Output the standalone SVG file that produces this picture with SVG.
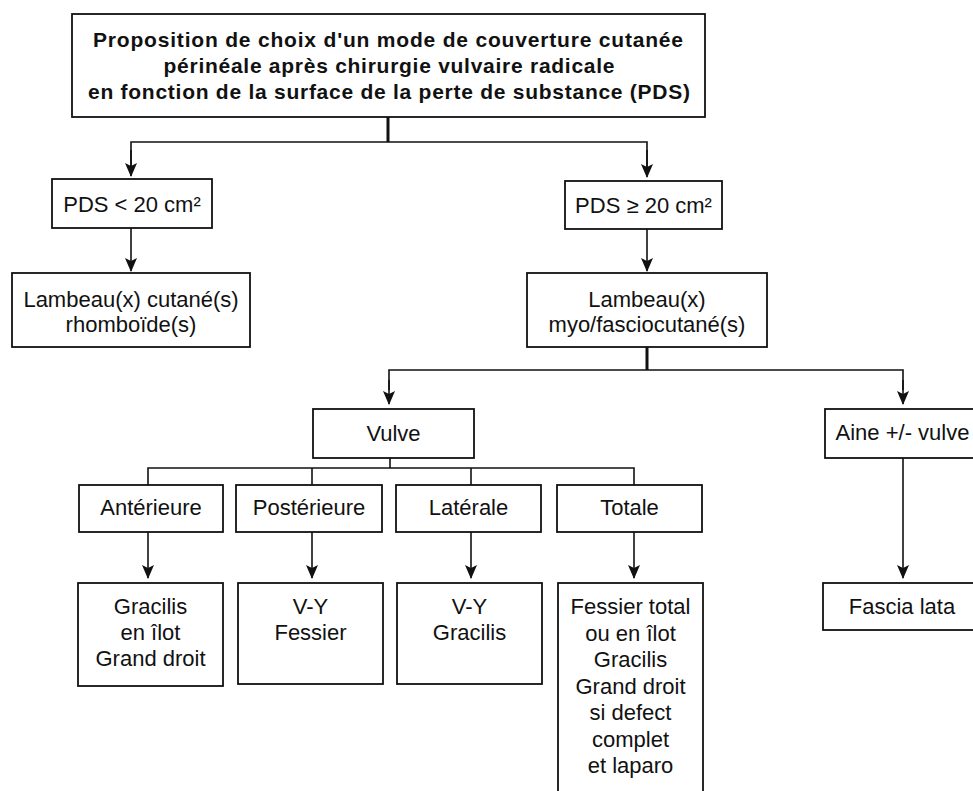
<svg xmlns="http://www.w3.org/2000/svg" width="973" height="791" viewBox="0 0 973 791">
<style>
.box{fill:#fff;stroke:#111;stroke-width:1.8}
.t{font-family:"Liberation Sans",Arial,Helvetica,sans-serif;font-size:22px;fill:#111;text-anchor:middle}
.tb{font-family:"Liberation Sans",Arial,Helvetica,sans-serif;font-size:21px;font-weight:bold;fill:#111;text-anchor:middle}
.c{fill:none;stroke:#111;stroke-width:1.6}
.ca{fill:none;stroke:#111;stroke-width:1.6;marker-end:url(#ah)}
.thick{fill:none;stroke:#111;stroke-width:3}
</style>
<defs>
<marker id="ah" markerUnits="userSpaceOnUse" viewBox="0 0 14 12" refX="13" refY="6" markerWidth="14" markerHeight="12" orient="auto">
<path d="M0,0 L14,6 L0,12 L3,6 z" fill="#111"/>
</marker>
</defs>
<rect width="973" height="791" fill="#fff"/>

<g id="connectors">
<line class="thick" x1="388" y1="117" x2="388" y2="142"/>
<polyline class="c" points="131,175 131,142 647,142 647,176"/>
<line class="ca" x1="131" y1="150" x2="131" y2="176"/>
<line class="ca" x1="647" y1="150" x2="647" y2="177"/>
<line class="ca" x1="131" y1="228" x2="131" y2="271"/>
<line class="ca" x1="647" y1="229" x2="647" y2="271"/>
<line class="thick" x1="647" y1="347" x2="647" y2="370"/>
<polyline class="c" points="389,390 389,370 903,370 903,390"/>
<line class="ca" x1="389" y1="380" x2="389" y2="404"/>
<line class="ca" x1="903" y1="380" x2="903" y2="404"/>
<line class="c" x1="390" y1="458" x2="390" y2="468"/>
<polyline class="c" points="148,485 148,468 634,468 634,485"/>
<line class="c" x1="312" y1="468" x2="312" y2="485"/>
<line class="c" x1="471" y1="468" x2="471" y2="485"/>
<line class="ca" x1="148" y1="532" x2="148" y2="578"/>
<line class="ca" x1="312" y1="532" x2="312" y2="578"/>
<line class="ca" x1="471" y1="532" x2="471" y2="578"/>
<line class="ca" x1="634" y1="532" x2="634" y2="578"/>
<line class="ca" x1="903" y1="458" x2="903" y2="578"/>
</g>

<g id="title">
<rect class="box" x="72" y="14" width="633" height="103"/>
<text class="tb" x="388" y="47" textLength="590" lengthAdjust="spacing">Proposition de choix d'un mode de couverture cutanée</text>
<text class="tb" x="389" y="73" textLength="451" lengthAdjust="spacing">périnéale après chirurgie vulvaire radicale</text>
<text class="tb" x="389" y="99" textLength="602" lengthAdjust="spacing">en fonction de la surface de la perte de substance (PDS)</text>
</g>

<g id="pds-lt">
<rect class="box" x="52" y="179" width="160" height="49"/>
<text class="t" x="132" y="212">PDS &lt; 20 cm²</text>
</g>

<g id="pds-ge">
<rect class="box" x="565" y="181" width="157" height="48"/>
<text class="t" x="643.5" y="213">PDS ≥ 20 cm²</text>
</g>

<g id="lambeau-cutane">
<rect class="box" x="12" y="273" width="238" height="74"/>
<text class="t" x="131" y="307">Lambeau(x) cutané(s)</text>
<text class="t" x="131" y="332">rhomboïde(s)</text>
</g>

<g id="lambeau-myo">
<rect class="box" x="527" y="273" width="240" height="74"/>
<text class="t" x="647" y="307">Lambeau(x)</text>
<text class="t" x="647" y="332">myo/fasciocutané(s)</text>
</g>

<g id="vulve">
<rect class="box" x="313" y="409" width="161" height="49"/>
<text class="t" x="393.5" y="441">Vulve</text>
</g>

<g id="aine">
<rect class="box" x="825" y="409" width="160" height="49"/>
<text class="t" x="902.5" y="440">Aine +/- vulve</text>
</g>

<g id="anterieure">
<rect class="box" x="79" y="485" width="144" height="47"/>
<text class="t" x="151" y="515">Antérieure</text>
</g>

<g id="posterieure">
<rect class="box" x="236" y="485" width="146" height="47"/>
<text class="t" x="309" y="515">Postérieure</text>
</g>

<g id="laterale">
<rect class="box" x="396" y="485" width="145" height="47"/>
<text class="t" x="468.5" y="515">Latérale</text>
</g>

<g id="totale">
<rect class="box" x="557" y="485" width="145" height="47"/>
<text class="t" x="629.5" y="515">Totale</text>
</g>

<g id="res-anterieure">
<rect class="box" x="78" y="583" width="145" height="103"/>
<text class="t" x="150.5" y="614">Gracilis</text>
<text class="t" x="150.5" y="640">en îlot</text>
<text class="t" x="150.5" y="666">Grand droit</text>
</g>

<g id="res-posterieure">
<rect class="box" x="238" y="583" width="145" height="101"/>
<text class="t" x="310.5" y="614">V-Y</text>
<text class="t" x="310.5" y="640">Fessier</text>
</g>

<g id="res-laterale">
<rect class="box" x="397" y="583" width="145" height="101"/>
<text class="t" x="469.5" y="614">V-Y</text>
<text class="t" x="469.5" y="640">Gracilis</text>
</g>

<g id="res-totale">
<rect class="box" x="558" y="583" width="145" height="230"/>
<text class="t" x="630.5" y="614">Fessier total</text>
<text class="t" x="630.5" y="640.5">ou en îlot</text>
<text class="t" x="630.5" y="667">Gracilis</text>
<text class="t" x="630.5" y="693.5">Grand droit</text>
<text class="t" x="630.5" y="720">si defect</text>
<text class="t" x="630.5" y="746.5">complet</text>
<text class="t" x="630.5" y="773">et laparo</text>
</g>

<g id="fascia-lata">
<rect class="box" x="823" y="583" width="160" height="47"/>
<text class="t" x="902" y="614">Fascia lata</text>
</g>
</svg>
